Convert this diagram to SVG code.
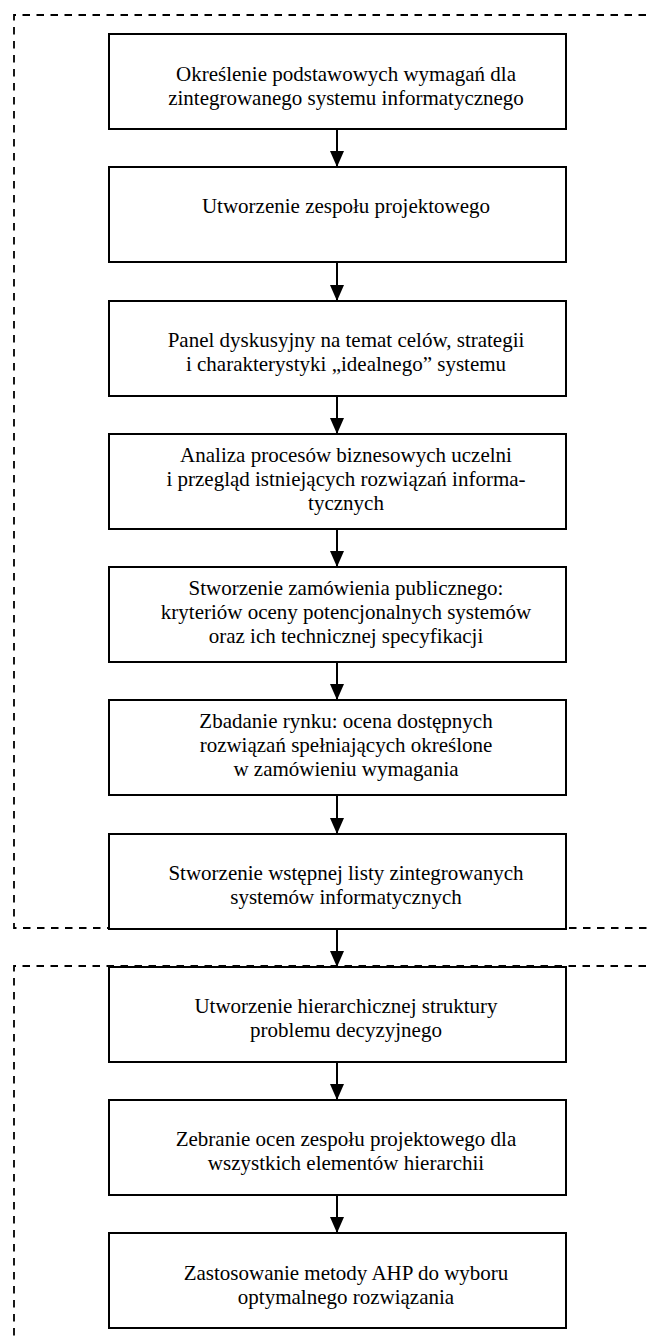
<svg xmlns="http://www.w3.org/2000/svg" width="648" height="1340" viewBox="0 0 648 1340">
<defs>
<marker id="ah" markerUnits="userSpaceOnUse" markerWidth="16" markerHeight="14" refX="16" refY="7" orient="auto" viewBox="0 0 16 14">
<path d="M0,0 L16,7 L0,14 z" fill="#000"/>
</marker>
<style>
.box{fill:#fff;stroke:#000;stroke-width:2}
.grp{fill:none;stroke:#000;stroke-width:1.8;stroke-dasharray:7.5 6.5}
.t{font-family:"Liberation Serif","Times New Roman",serif;font-size:21px;fill:#000;text-anchor:middle}
.c{stroke:#000;stroke-width:2;fill:none;marker-end:url(#ah)}
</style>
</defs>
<rect width="648" height="1340" fill="#fff"/>
<g id="groups">
<path class="grp" d="M660,15 H14 V928 H660"/>
<path class="grp" d="M660,966 H14 V1350"/>
</g>
<g id="connectors">
<line class="c" x1="337" y1="129" x2="337" y2="167"/>
<line class="c" x1="337" y1="262" x2="337" y2="301"/>
<line class="c" x1="337" y1="396" x2="337" y2="434"/>
<line class="c" x1="337" y1="529" x2="337" y2="567"/>
<line class="c" x1="337" y1="662" x2="337" y2="700"/>
<line class="c" x1="337" y1="795" x2="337" y2="834"/>
<line class="c" x1="337" y1="929" x2="337" y2="967"/>
<line class="c" x1="337" y1="1062" x2="337" y2="1100"/>
<line class="c" x1="337" y1="1195" x2="337" y2="1233"/>
</g>
<g id="n1"><rect class="box" x="109" y="34" width="457" height="95"/>
<text class="t" x="346" y="81">Określenie podstawowych wymagań dla</text>
<text class="t" x="346" y="105">zintegrowanego systemu informatycznego</text></g>
<g id="n2"><rect class="box" x="109" y="167" width="457" height="95"/>
<text class="t" x="346" y="213">Utworzenie zespołu projektowego</text></g>
<g id="n3"><rect class="box" x="109" y="301" width="457" height="95"/>
<text class="t" x="346" y="347">Panel dyskusyjny na temat celów, strategii</text>
<text class="t" x="346" y="371">i charakterystyki „idealnego” systemu</text></g>
<g id="n4"><rect class="box" x="109" y="434" width="457" height="95"/>
<text class="t" x="346" y="462">Analiza procesów biznesowych uczelni</text>
<text class="t" x="346" y="486">i przegląd istniejących rozwiązań informa-</text>
<text class="t" x="346" y="510">tycznych</text></g>
<g id="n5"><rect class="box" x="109" y="567" width="457" height="95"/>
<text class="t" x="346" y="595">Stworzenie zamówienia publicznego:</text>
<text class="t" x="346" y="619">kryteriów oceny potencjonalnych systemów</text>
<text class="t" x="346" y="643">oraz ich technicznej specyfikacji</text></g>
<g id="n6"><rect class="box" x="109" y="700" width="457" height="95"/>
<text class="t" x="346" y="728">Zbadanie rynku: ocena dostępnych</text>
<text class="t" x="346" y="752">rozwiązań spełniających określone</text>
<text class="t" x="346" y="776">w zamówieniu wymagania</text></g>
<g id="n7"><rect class="box" x="109" y="834" width="457" height="95"/>
<text class="t" x="346" y="880">Stworzenie wstępnej listy zintegrowanych</text>
<text class="t" x="346" y="904">systemów informatycznych</text></g>
<g id="n8"><rect class="box" x="109" y="967" width="457" height="95"/>
<text class="t" x="346" y="1013">Utworzenie hierarchicznej struktury</text>
<text class="t" x="346" y="1037">problemu decyzyjnego</text></g>
<g id="n9"><rect class="box" x="109" y="1100" width="457" height="95"/>
<text class="t" x="346" y="1146">Zebranie ocen zespołu projektowego dla</text>
<text class="t" x="346" y="1170">wszystkich elementów hierarchii</text></g>
<g id="n10"><rect class="box" x="109" y="1233" width="457" height="95"/>
<text class="t" x="346" y="1280">Zastosowanie metody AHP do wyboru</text>
<text class="t" x="346" y="1304">optymalnego rozwiązania</text></g>
</svg>
